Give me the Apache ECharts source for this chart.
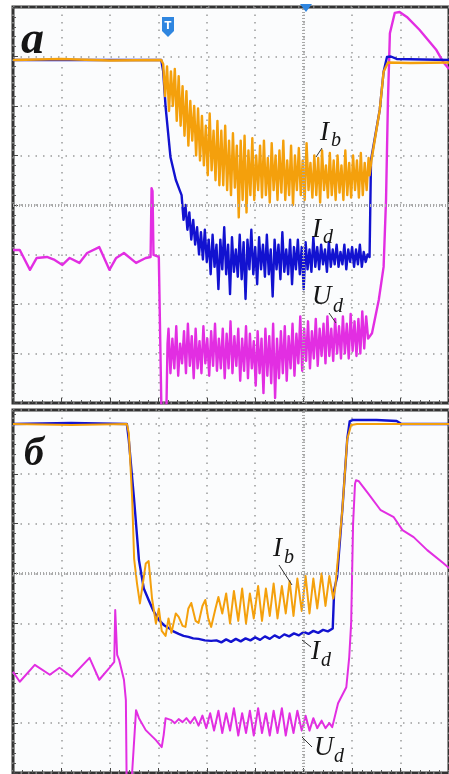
<!DOCTYPE html>
<html><head><meta charset="utf-8">
<script src="https://cdn.jsdelivr.net/npm/echarts@6/dist/echarts.min.js"></script>
<style>html,body{margin:0;padding:0;background:#fff}#c{width:449px;height:774px}</style>
</head><body><div id="c"></div>
<script>
// ---- Panel а (top) : x in divisions, y in divisions from bottom ----
const ibA_head = [[0,6.93],[1.0,6.95],[2.0,6.92],[3.06,6.93]];
const ibA_noiseStart = 3.10, ibA_noiseStep = 0.04;
const ibA_noise = [
 6.85,6.2,6.8,5.9,6.7,6.0,6.75,5.7,6.6,5.6,
 6.4,5.4,6.3,5.2,6.1,5.3,6.0,5.0,5.95,4.9,
 5.8,4.8,5.6,4.6,5.85,4.7,5.5,4.5,5.7,4.4,
 5.5,4.4,5.6,4.3,5.3,4.2,5.45,4.35,5.2,3.75,
 5.3,4.1,5.4,3.85,5.1,4.2,5.35,4.1,5.0,4.3,
 5.2,4.15,5.3,4.2,4.95,4.05,5.25,4.3,5.0,4.1,
 5.1,4.25,5.3,4.1,4.9,4.2,5.2,4.0,5.0,4.3,
 5.15,4.2,4.9,4.1,5.25,4.3,4.85,4.15,5.0,4.2,
 4.95,4.05,5.1,4.3,4.8,4.15,5.05,4.2,4.9,4.1,
 5.0,4.25,4.8,4.1,5.1,4.2,4.85,4.15,5.0,4.3,
 4.9,4.15,5.05,4.2,4.85,4.3,4.95];
const ibA_tail = [[7.36,4.6],[7.40,4.91],[7.57,5.92],[7.65,6.69],[7.74,6.88],[8.2,6.87],[9.0,6.88]];

const idA_head = [[0,6.93],[3.06,6.93],[3.10,6.7],[3.15,5.98],[3.25,4.97],[3.36,4.51],[3.44,4.3]];
const idA_noiseStart = 3.48, idA_noiseStep = 0.04;
const idA_noise = [
 4.2,3.7,4.0,3.5,3.85,3.3,3.7,3.2,3.55,3.0,
 3.45,2.9,3.5,2.85,3.3,2.6,3.4,2.75,3.2,2.3,
 3.3,2.7,3.55,2.6,3.2,2.2,3.35,2.65,3.1,2.55,
 3.4,2.5,3.25,2.1,3.3,2.7,3.5,2.6,3.15,2.4,
 3.35,2.7,3.2,2.55,3.4,2.6,3.1,2.15,3.3,2.7,
 3.2,2.5,3.45,2.65,3.1,2.6,3.3,2.4,3.15,2.7,
 3.3,2.6,3.15,2.3,3.25,2.7,3.1,2.65,3.35,2.75,
 3.15,2.7,3.2,2.8,3.1,2.65,3.25,2.75,3.1,2.8,
 3.2,2.75,3.05,2.8,3.2,2.7,3.1,2.85,3.15,2.75,
 3.1,2.8,3.2,2.75,3.05,2.85,3.0];
const idA_tail = [[7.36,2.95],[7.39,4.91],[7.57,5.92],[7.65,6.69],[7.72,6.99],[7.80,7.0],[7.92,6.95],[9.0,6.93]];

const udA_head = [[0,3.09],[0.14,3.09],[0.35,2.69],[0.49,2.93],[0.70,2.95],[0.86,2.89],[1.02,2.79],[1.17,2.93],[1.37,2.83],[1.53,3.03],[1.78,3.15],[1.99,2.69],[2.13,2.93],[2.29,3.03],[2.54,2.83],[2.74,2.93],[2.84,2.95],[2.86,4.34],[2.88,4.28],[2.90,2.99],[3.01,2.95],[3.05,2.93],[3.07,-0.5],[3.16,-0.5],[3.19,1.2]];
const udA_noiseStart = 3.21, udA_noiseStep = 0.04;
const udA_noise = [
 1.5,0.6,1.3,0.7,1.55,0.55,1.2,0.8,1.45,0.6,
 1.6,0.75,1.35,0.5,1.5,0.7,1.25,0.6,1.55,0.8,
 1.3,0.55,1.45,0.75,1.6,0.65,1.3,0.7,1.5,0.5,
 1.4,0.7,1.65,0.6,1.35,0.75,1.5,0.45,1.3,0.65,
 1.55,0.5,1.4,0.7,1.25,0.35,1.45,0.6,1.3,0.2,
 1.5,0.55,1.35,0.4,1.6,0.1,1.3,0.5,1.45,0.6,
 1.55,0.45,1.35,0.7,1.6,0.55,1.4,0.8,1.75,0.65,
 1.5,0.85,1.65,0.7,1.45,0.9,1.7,0.75,1.5,0.95,
 1.6,0.8,1.75,0.95,1.5,0.85,1.7,1.0,1.55,0.9,
 1.75,1.0,1.6,0.9,1.8,1.05,1.65,0.95,1.7,1.0,
 1.85,1.1,1.75,1.3];
const udA_tail = [[7.41,1.41],[7.55,2.08],[7.65,2.75],[7.70,4.10],[7.74,6.12],[7.78,7.47],[7.88,7.88],[7.98,7.90],[8.13,7.80],[8.39,7.54],[8.74,7.13],[8.88,6.89],[9.0,6.75]];

// ---- Panel б (bottom) ----
const idB = [[0,7.0],[1.2,7.02],[2.35,7.0],[2.39,6.68],[2.50,5.48],[2.60,4.27],[2.70,3.7],[2.80,3.47],[2.90,3.25],[3.01,3.07],[3.11,2.97],[3.21,2.91],[3.31,2.84],[3.42,2.79],[3.52,2.75],[3.62,2.73],[3.72,2.70],[3.83,2.69],[3.96,2.66],[4.09,2.65],
 [4.2,2.66],[4.3,2.62],[4.4,2.68],[4.5,2.63],[4.6,2.69],[4.7,2.64],[4.8,2.70],[4.9,2.66],[5.0,2.72],[5.1,2.67],[5.2,2.74],[5.3,2.69],[5.4,2.76],[5.5,2.71],[5.6,2.78],[5.7,2.74],[5.8,2.80],[5.9,2.76],[6.0,2.83],[6.1,2.79],[6.2,2.85],[6.3,2.81],[6.4,2.87],[6.5,2.84],[6.6,2.90],
 [6.63,3.67],[6.69,3.93],[6.80,5.3],[6.90,6.7],[6.95,7.05],[7.02,7.08],[7.5,7.08],[7.92,7.06],[8.02,7.0],[9.0,7.0]];
const ibB = [[0,7.0],[1.2,6.98],[2.35,7.0],[2.39,6.82],[2.46,5.5],[2.50,4.3],[2.56,3.8],[2.62,3.4],[2.68,3.8],[2.74,4.2],[2.80,4.25],[2.87,3.5],[2.95,3.0],[3.01,3.3],[3.07,2.85],[3.15,2.75],[3.21,3.1],[3.27,2.81],[3.36,3.2],[3.42,3.13],[3.50,2.95],[3.56,2.93],[3.62,3.3],[3.68,3.41],[3.77,3.05],[3.83,3.01],[3.91,3.35],[3.97,3.47],[4.03,3.1],[4.09,2.93],[4.18,3.3],[4.24,3.53],
 [4.32,3.2],[4.40,3.6],[4.48,3.0],[4.56,3.65],[4.65,3.05],[4.73,3.7],[4.81,3.0],[4.89,3.6],[4.97,3.1],[5.06,3.75],[5.14,3.05],[5.22,3.7],[5.30,3.15],[5.38,3.8],[5.46,3.1],[5.55,3.75],[5.63,3.2],[5.71,3.85],[5.79,3.15],[5.87,3.9],[5.96,3.25],[6.04,3.95],[6.12,3.2],[6.20,3.9],[6.28,3.3],[6.37,4.0],[6.45,3.35],[6.53,3.95],[6.61,3.5],
 [6.65,3.7],[6.80,5.3],[6.90,6.7],[6.98,6.98],[7.10,7.0],[9.0,7.0]];
const udB = [[0,2.03],[0.14,1.83],[0.45,2.17],[0.76,1.97],[0.96,2.11],[1.21,1.93],[1.58,2.31],[1.78,1.87],[1.99,2.11],[2.09,2.23],[2.11,3.27],[2.13,3.27],[2.15,2.37],[2.19,2.27],[2.29,1.87],[2.33,1.46],[2.35,-0.6],[2.41,-0.6],[2.46,0.02],[2.54,1.26],[2.60,1.10],[2.74,0.86],[2.95,0.66],[3.07,0.52],[3.11,0.76],[3.15,1.10],[3.27,1.06],
 [3.34,1.0],[3.42,1.08],[3.50,1.02],[3.58,1.1],[3.66,1.0],[3.75,1.12],[3.83,0.95],[3.91,1.15],[3.99,0.9],[4.07,1.2],[4.15,0.85],[4.24,1.25],[4.32,0.8],[4.40,1.2],[4.48,0.85],[4.56,1.3],[4.65,0.75],[4.73,1.2],[4.81,0.8],[4.89,1.25],[4.97,0.75],[5.06,1.3],[5.14,0.8],[5.22,1.2],[5.30,0.75],[5.38,1.25],[5.46,0.8],[5.55,1.3],[5.63,0.75],[5.71,1.2],[5.79,0.8],[5.87,1.25],[5.96,0.85],[6.04,1.15],[6.12,0.85],[6.20,1.1],[6.28,0.9],[6.37,1.05],[6.45,0.9],[6.53,1.0],
 [6.59,0.92],[6.71,1.4],[6.88,1.72],[6.94,2.32],[6.98,3.0],[7.02,5.0],[7.06,5.8],[7.08,5.87],[7.14,5.85],[7.33,5.61],[7.59,5.27],[7.86,5.13],[8.04,4.87],[8.27,4.73],[8.55,4.47],[8.88,4.21],[9.0,4.11]];

const X_MAX = 9.0, Y_MAX_A = 8, Y_MAX_B = 7.28;
const COL_IB = '#f4a00c', COL_ID = '#1212d0', COL_UD = '#e22ee2';

function sampled(start, step, vals){ return vals.map((v,i)=>[+(start+i*step).toFixed(3), v]); }
const ibA = ibA_head.concat(sampled(ibA_noiseStart, ibA_noiseStep, ibA_noise), ibA_tail);
const idA = idA_head.concat(sampled(idA_noiseStart, idA_noiseStep, idA_noise), idA_tail);
const udA = udA_head.concat(sampled(udA_noiseStart, udA_noiseStep, udA_noise), udA_tail);

const GRIDC = '#9a9a9a';
function xAx(g){ return {type:'value', gridIndex:g, min:0, max:X_MAX, interval:1,
  axisLabel:{show:false}, axisLine:{show:false},
  axisTick:{show:true, inside:true, length:5, lineStyle:{color:'#444'}},
  minorTick:{show:true, splitNumber:5, length:3, lineStyle:{color:'#555'}},
  splitLine:{show:true, lineStyle:{color:GRIDC, type:[1.5,6], width:1.5}}}; }
function yAx(g, max){ return {type:'value', gridIndex:g, min:0, max:max, interval:1,
  axisLabel:{show:false}, axisLine:{show:false},
  axisTick:{show:true, inside:true, length:5, lineStyle:{color:'#444'}},
  minorTick:{show:true, splitNumber:5, length:3, lineStyle:{color:'#555'}},
  splitLine:{show:true, lineStyle:{color:GRIDC, type:[1.5,6], width:1.5}}}; }
function ser(g, data, color, w, extra){ return Object.assign({type:'line', xAxisIndex:g, yAxisIndex:g, data:data, showSymbol:false, symbol:'none', silent:true, animation:false, clip:true,
  lineStyle:{color:color, width:w, join:'round'}}, extra||{}); }
const centerLines = {silent:true, symbol:'none', label:{show:false}, animation:false,
  lineStyle:{type:[1,2], color:'#a8a8a8', width:3}, data:[{xAxis:6},{yAxis:4}]};

function txt(x,y,t,font){ return {type:'text', x:x, y:y, z:100, style:{text:t, font:font, fill:'#151515', textAlign:'left', textVerticalAlign:'middle', align:'left', verticalAlign:'middle'}}; }
function ln(x1,y1,x2,y2){ return {type:'line', z:100, shape:{x1,y1,x2,y2}, style:{stroke:'#333', lineWidth:1}}; }
const IT = 'italic 27px "Liberation Serif"', SUB = 'italic 20px "Liberation Serif"';

const chart = echarts.init(document.getElementById('c'), null, {renderer:'canvas'});
chart.setOption({
  animation:false, backgroundColor:'#ffffff',
  grid:[
    {left:13, top:7, width:440, height:396, show:true, borderColor:'#333', borderWidth:3, backgroundColor:'#fbfcfd'},
    {left:13, top:410, width:440, height:363, show:true, borderColor:'#333', borderWidth:3, backgroundColor:'#fbfcfd'}
  ],
  xAxis:[xAx(0), xAx(1)],
  yAxis:[yAx(0, Y_MAX_A), yAx(1, Y_MAX_B)],
  series:[
    ser(0, udA, COL_UD, 2.4, {markLine:centerLines}),
    ser(0, idA, COL_ID, 2.4),
    ser(0, ibA, COL_IB, 2.4),
    ser(1, udB, COL_UD, 2.0, {markLine:centerLines}),
    ser(1, idB, COL_ID, 2.4),
    ser(1, ibB, COL_IB, 2.0)
  ],
  graphic:[
    txt(21, 41, 'а', 'bold italic 46px "Liberation Serif"'),
    txt(24, 455, 'б', 'bold italic 40px "Liberation Serif"'),
    // panel а labels
    txt(320, 133, 'I', IT), txt(331, 141, 'b', SUB), ln(316,157,322,148),
    txt(312, 230, 'I', IT), txt(323, 238, 'd', SUB),
    txt(312, 297, 'U', IT), txt(333, 307, 'd', SUB), ln(329,313,336,323),
    // panel б labels
    txt(273, 549, 'I', IT), txt(284, 558, 'b', SUB), ln(279,565,292,585),
    txt(311, 652, 'I', IT), txt(321, 661, 'd', SUB), ln(302,640,311,647),
    txt(314, 748, 'U', IT), txt(334, 757, 'd', SUB), ln(302,737,312,747),
    // trigger markers
    {type:'polygon', z:100, shape:{points:[[162,17],[174,17],[174,31],[168,37],[162,31]]}, style:{fill:'#2f86e0'}},
    {type:'text', z:101, x:168, y:26, style:{text:'T', font:'bold 10px "DejaVu Sans"', fill:'#fff', textAlign:'center', textVerticalAlign:'middle', align:'center', verticalAlign:'middle'}},
    {type:'polygon', z:100, shape:{points:[[300,4],[312,4],[306,12]]}, style:{fill:'#2f86e0'}}
  ]
});
</script></body></html>
